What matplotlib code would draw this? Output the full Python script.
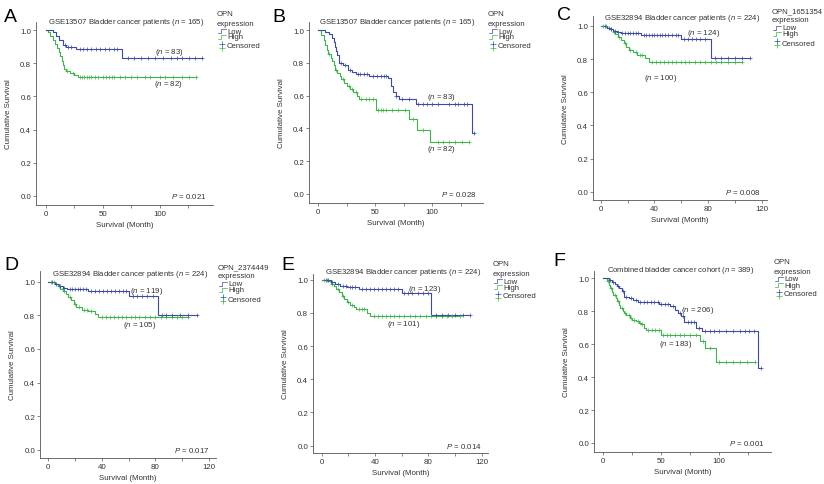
import numpy as np
import matplotlib
matplotlib.use("Agg")
import matplotlib.pyplot as plt
import matplotlib.transforms as mtransforms
from matplotlib.lines import Line2D

plt.rcParams['font.family'] = ['Liberation Sans', 'DejaVu Sans']
plt.rcParams['mathtext.fontset'] = 'custom'
plt.rcParams['mathtext.rm'] = 'Liberation Sans'
plt.rcParams['mathtext.it'] = 'Liberation Sans:italic'

W, H = 824, 485
BLUE = '#3a4aa6'
GREEN = '#3db54a'

# ---- data (months, cumulative survival) ----
# A: GSE13507, n = 165
A_low_t = [0, 6, 9, 12, 15, 18, 27, 67]
A_low_s = [1.0, 0.988, 0.963, 0.939, 0.914, 0.90, 0.887, 0.832]
A_low_end = 137
A_low_cens = [17, 20, 22, 30, 33, 36, 40, 44, 48, 52, 56, 60, 63, 72, 78, 84,
              90, 96, 103, 110, 115, 120, 126, 131, 137]
A_high_t = [0, 2, 4, 6, 8, 10, 12, 13, 14, 15, 16, 18, 21, 25, 28]
A_high_s = [1.0, 0.988, 0.963, 0.939, 0.915, 0.89, 0.866, 0.842, 0.817,
            0.793, 0.768, 0.756, 0.744, 0.732, 0.72]
A_high_end = 132
A_high_cens = [19, 24, 30, 32, 34, 36, 38, 40, 43, 46, 50, 53, 56, 58, 60, 65,
               70, 75, 80, 87, 92, 100, 105, 112, 120, 126, 132]

# B: GSE13507, n = 165
B_low_t = [0, 6, 10, 12, 14, 15, 16, 17, 18, 22, 26, 30, 33, 45, 61, 64, 66,
           68, 71, 86, 135]
B_low_s = [1.0, 0.988, 0.975, 0.95, 0.925, 0.90, 0.875, 0.85, 0.80, 0.785,
           0.76, 0.745, 0.735, 0.72, 0.71, 0.66, 0.62, 0.60, 0.58, 0.55, 0.37]
B_low_end = 137
B_low_cens = [20, 24, 28, 35, 37, 40, 43, 48, 52, 55, 58, 60, 68, 74, 80, 88,
              92, 96, 100, 105, 115, 120, 123, 128, 131, 137]
B_high_t = [0, 3, 5, 6, 8, 9, 11, 12, 14, 15, 17, 19, 20, 23, 25, 28, 31, 34,
            36, 51, 80, 87, 98]
B_high_s = [1.0, 0.97, 0.94, 0.91, 0.88, 0.855, 0.83, 0.81, 0.785, 0.76, 0.74,
            0.72, 0.70, 0.68, 0.66, 0.64, 0.62, 0.60, 0.58, 0.515, 0.46, 0.39,
            0.32]
B_high_end = 132
B_high_cens = [10, 16, 22, 27, 30, 33, 38, 42, 45, 48, 53, 55, 57, 60, 65, 70,
               76, 83, 92, 105, 110, 115, 120, 126, 132]

# C: GSE32894, OPN_1651354, n = 224
C_low_t = [0, 5, 7, 9, 12, 15, 30, 60, 82]
C_low_s = [1.0, 0.99, 0.98, 0.97, 0.965, 0.955, 0.945, 0.92, 0.805]
C_low_end = 111
C_low_cens = [3, 6, 8, 11, 13, 16, 18, 20, 22, 24, 26, 28, 32, 34, 36, 38, 40,
              42, 44, 46, 48, 50, 53, 56, 58, 62, 65, 68, 71, 74, 78, 85, 90,
              95, 100, 105, 111]
C_high_t = [0, 5, 7, 9, 11, 13, 15, 17, 19, 21, 24, 27, 33, 36]
C_high_s = [1.0, 0.99, 0.98, 0.965, 0.95, 0.935, 0.915, 0.895, 0.875, 0.855,
            0.84, 0.825, 0.805, 0.785]
C_high_end = 105
C_high_cens = [2, 4, 8, 10, 14, 18, 22, 26, 29, 31, 38, 41, 44, 47, 50, 53, 56,
               60, 63, 66, 70, 74, 78, 82, 86, 90, 95, 100, 105]

# D: GSE32894, OPN_2374449, n = 224
D_low_t = [0, 5, 8, 11, 14, 30, 60, 82]
D_low_s = [1.0, 0.99, 0.975, 0.965, 0.955, 0.945, 0.918, 0.80]
D_low_end = 111
D_low_cens = [3, 6, 9, 12, 16, 18, 20, 22, 24, 26, 28, 32, 35, 38, 41, 44, 47,
              50, 53, 56, 58, 63, 66, 70, 74, 78, 85, 88, 92, 98, 104, 111]
D_high_t = [0, 5, 7, 9, 11, 13, 15, 17, 19, 21, 25, 30, 35, 37]
D_high_s = [1.0, 0.99, 0.975, 0.96, 0.945, 0.93, 0.91, 0.89, 0.87, 0.85,
            0.835, 0.825, 0.81, 0.788]
D_high_end = 104
D_high_cens = [2, 4, 8, 12, 16, 20, 23, 27, 29, 32, 40, 43, 46, 49, 52, 55, 58,
               62, 65, 68, 72, 76, 80, 84, 88, 92, 96, 100, 104]

# E: GSE32894, n = 224
E_low_t = [0, 7, 10, 14, 19, 28, 60, 82]
E_low_s = [1.0, 0.985, 0.975, 0.965, 0.955, 0.945, 0.92, 0.787]
E_low_end = 111
E_low_cens = [3, 5, 8, 12, 16, 18, 21, 23, 25, 30, 33, 36, 39, 42, 45, 48, 51,
              54, 57, 62, 65, 68, 72, 76, 80, 86, 90, 95, 100, 106, 111]
E_high_t = [0, 5, 7, 9, 11, 13, 15, 17, 19, 21, 24, 26, 34, 36]
E_high_s = [1.0, 0.99, 0.975, 0.96, 0.945, 0.925, 0.905, 0.885, 0.865, 0.845,
            0.835, 0.823, 0.80, 0.783]
E_high_end = 104
E_high_cens = [2, 4, 8, 12, 16, 20, 23, 28, 30, 32, 39, 42, 45, 48, 51, 54, 58,
               62, 66, 70, 74, 78, 82, 86, 90, 94, 98, 104]

# F: combined cohort, n = 389
F_low_t = [0, 5, 8, 10, 12, 14, 16, 18, 22, 26, 30, 48, 58, 62, 65, 67, 70,
           80, 85, 134]
F_low_s = [1.0, 0.99, 0.98, 0.965, 0.955, 0.94, 0.925, 0.89, 0.88, 0.87,
           0.855, 0.845, 0.83, 0.81, 0.79, 0.77, 0.735, 0.70, 0.68, 0.455]
F_low_end = 136
F_low_cens = [6, 9, 13, 17, 20, 24, 28, 32, 35, 38, 41, 44, 47, 50, 53, 56, 60,
              66, 69, 73, 76, 78, 83, 88, 92, 96, 100, 106, 112, 118, 122, 126,
              130, 136]
F_high_t = [0, 3, 5, 6, 8, 9, 11, 12, 14, 15, 17, 18, 20, 23, 25, 28, 31, 33,
            35, 37, 50, 84, 88, 97]
F_high_s = [1.0, 0.985, 0.96, 0.94, 0.92, 0.90, 0.88, 0.86, 0.84, 0.82, 0.80,
            0.79, 0.775, 0.76, 0.75, 0.74, 0.73, 0.72, 0.70, 0.686, 0.655,
            0.62, 0.575, 0.495]
F_high_end = 131
F_high_cens = [4, 7, 10, 13, 16, 19, 22, 24, 27, 30, 32, 34, 39, 42, 45, 48,
               52, 55, 58, 62, 66, 70, 75, 80, 86, 92, 100, 106, 112, 118,
               124, 131]

panel_letters = ['A', 'B', 'C', 'D', 'E', 'F']
titles = ['GSE13507 Bladder cancer patients ($\\it{n}$ = 165)',
          'GSE13507 Bladder cancer patients ($\\it{n}$ = 165)',
          'GSE32894 Bladder cancer patients ($\\it{n}$ = 224)',
          'GSE32894 Bladder cancer patients ($\\it{n}$ = 224)',
          'GSE32894 Bladder cancer patients ($\\it{n}$ = 224)',
          'Combined bladder cancer cohort ($\\it{n}$ = 389)']
legend_titles = ['OPN', 'OPN', 'OPN_1651354', 'OPN_2374449', 'OPN', 'OPN']
n_low = [83, 83, 124, 119, 123, 206]
n_high = [82, 82, 100, 105, 101, 183]
p_values = ['0.021', '0.028', '0.008', '0.017', '0.014', '0.001']
x_major = [25, 25, 20, 20, 20, 25]

curves = [
    (A_low_t, A_low_s, A_low_end, A_low_cens, A_high_t, A_high_s, A_high_end, A_high_cens),
    (B_low_t, B_low_s, B_low_end, B_low_cens, B_high_t, B_high_s, B_high_end, B_high_cens),
    (C_low_t, C_low_s, C_low_end, C_low_cens, C_high_t, C_high_s, C_high_end, C_high_cens),
    (D_low_t, D_low_s, D_low_end, D_low_cens, D_high_t, D_high_s, D_high_end, D_high_cens),
    (E_low_t, E_low_s, E_low_end, E_low_cens, E_high_t, E_high_s, E_high_end, E_high_cens),
    (F_low_t, F_low_s, F_low_end, F_low_cens, F_high_t, F_high_s, F_high_end, F_high_cens),
]

# ---- layout (pixels) ----
# axes box: left, right, top, bottom
boxes = [(36, 213, 23, 206), (309, 483, 23, 204), (593, 767, 17, 201),
         (40, 216, 272, 459), (313, 488, 275, 454), (594, 771, 272, 453)]
xlims = [(-8.5, 147), (-7.9, 144.7), (-5.75, 124), (-6.2, 125.2),
         (-6.5, 124.7), (-7.8, 144.8)]
ylims = [(-0.056, 1.05), (-0.055, 1.05), (-0.05, 1.06), (-0.05, 1.065),
         (-0.045, 1.035), (-0.055, 1.045)]
letter_pos = [(4, 17), (272, 17), (557, 15), (4, 266), (281, 266), (553, 261)]
title_pos = [(126, 22), (397, 22), (682, 18), (130, 274), (403, 272), (681, 270)]
legend_pos = [(217, 15), (488, 15), (772, 12), (218, 268), (493, 265), (774, 263)]
nlow_pos = [(109, 0.869), (108.5, 0.595), (77, 0.96), (73.5, 0.948),
            (77.5, 0.95), (81.3, 0.81)]
nhigh_pos = [(108, 0.68), (108.5, 0.278), (44.8, 0.687), (68.5, 0.745),
             (61.2, 0.737), (62.7, 0.607)]


def fx(x):
    return x / W


def fy(y):
    return 1 - y / H


def km(ax, t, s, end, cens, color):
    tt = list(t) + [end]
    ss = list(s) + [s[-1]]
    ax.step(tt, ss, where='post', color=color, lw=0.8, zorder=3)
    idx = np.searchsorted(np.array(t), np.array(cens), side='right') - 1
    cy = np.array(s)[idx]
    ax.plot(cens, cy, ls='none', marker='+', ms=2.4, mew=0.5, color=color,
            zorder=4)


fig = plt.figure(figsize=(W / 100, H / 100), dpi=100)

for i in range(6):
    l, r, t, b = boxes[i]
    ax = fig.add_axes([fx(l), fy(b), (r - l) / W, (b - t) / H])
    lt, ls_, le, lc, ht, hs, he, hc = curves[i]
    km(ax, ht, hs, he, hc, GREEN)
    km(ax, lt, ls_, le, lc, BLUE)
    ax.set_xlim(*xlims[i])
    ax.set_ylim(*ylims[i])

    for side in ['top', 'right']:
        ax.spines[side].set_visible(False)
    for side in ['left', 'bottom']:
        ax.spines[side].set_color('#555555')
        ax.spines[side].set_linewidth(0.6)
    ax.tick_params(length=2, width=0.5, color='#555555', labelsize=5.7,
                   labelcolor='#333333', pad=1.5)

    step = x_major[i]
    xt = np.arange(0, xlims[i][1], step)
    ax.set_xticks(xt)
    ax.set_xticklabels([f'{v:g}' if k % 2 == 0 else '' for k, v in enumerate(xt)])
    yt = [0.0, 0.2, 0.4, 0.6, 0.8, 1.0]
    ax.set_yticks(yt)
    ax.set_yticklabels([f'{v:.1f}' for v in yt])

    ax.set_xlabel('Survival (Month)', fontsize=5.7, color='#333333')
    ax.set_ylabel('Cumulative Survival', fontsize=5.7, color='#333333')
    ax.xaxis.set_label_coords(0.5, -16 / (b - t))
    ax.yaxis.set_label_coords(-24 / (r - l), 0.5)

    ax.text(nlow_pos[i][0], nlow_pos[i][1], f'($\\it{{n}}$ = {n_low[i]})',
            fontsize=5.7, color='#333333', ha='center', va='center')
    ax.text(nhigh_pos[i][0], nhigh_pos[i][1], f'($\\it{{n}}$ = {n_high[i]})',
            fontsize=5.7, color='#333333', ha='center', va='center')
    ptrans = mtransforms.blended_transform_factory(ax.transAxes, ax.transData)
    ax.text(0.965, 0.0, f'$\\it{{P}}$ = {p_values[i]}', transform=ptrans,
            fontsize=5.7, color='#333333', ha='right', va='center')

    # panel letter and title
    lx, ly = letter_pos[i]
    fig.text(fx(lx), fy(ly), panel_letters[i], fontsize=14, ha='left',
             va='center', color='black')
    tx, ty = title_pos[i]
    fig.text(fx(tx), fy(ty), titles[i], fontsize=5.6, ha='center',
             va='center', color='#333333')

    # legend
    gx, gy = legend_pos[i]
    fig.text(fx(gx), fy(gy), legend_titles[i], fontsize=5.6, ha='left',
             va='center', color='#333333')
    fig.text(fx(gx), fy(gy + 9), 'expression', fontsize=5.6, ha='left',
             va='center', color='#333333')
    rows = [(gy + 17, 'Low', BLUE), (gy + 23, 'High', GREEN)]
    for ry, lab, col in rows:
        xs = [gx + 1, gx + 4, gx + 4, gx + 9]
        ys = [ry + 2, ry + 2, ry - 2, ry - 2]
        fig.add_artist(Line2D([fx(v) for v in xs], [fy(v) for v in ys],
                              color=col, lw=0.5))
        fig.text(fx(gx + 10), fy(ry), lab, fontsize=5.6, ha='left',
                 va='center', color='#333333')
    cy0 = gy + 32
    fig.add_artist(Line2D([fx(gx + 5)], [fy(cy0 - 2)], marker='+', ms=4,
                          mew=0.5, color=BLUE, ls='none'))
    fig.add_artist(Line2D([fx(gx + 5)], [fy(cy0 + 2)], marker='+', ms=4,
                          mew=0.5, color=GREEN, ls='none'))
    fig.text(fx(gx + 10), fy(cy0), 'Censored', fontsize=5.6, ha='left',
             va='center', color='#333333')

fig.savefig('out.png', dpi=100)
